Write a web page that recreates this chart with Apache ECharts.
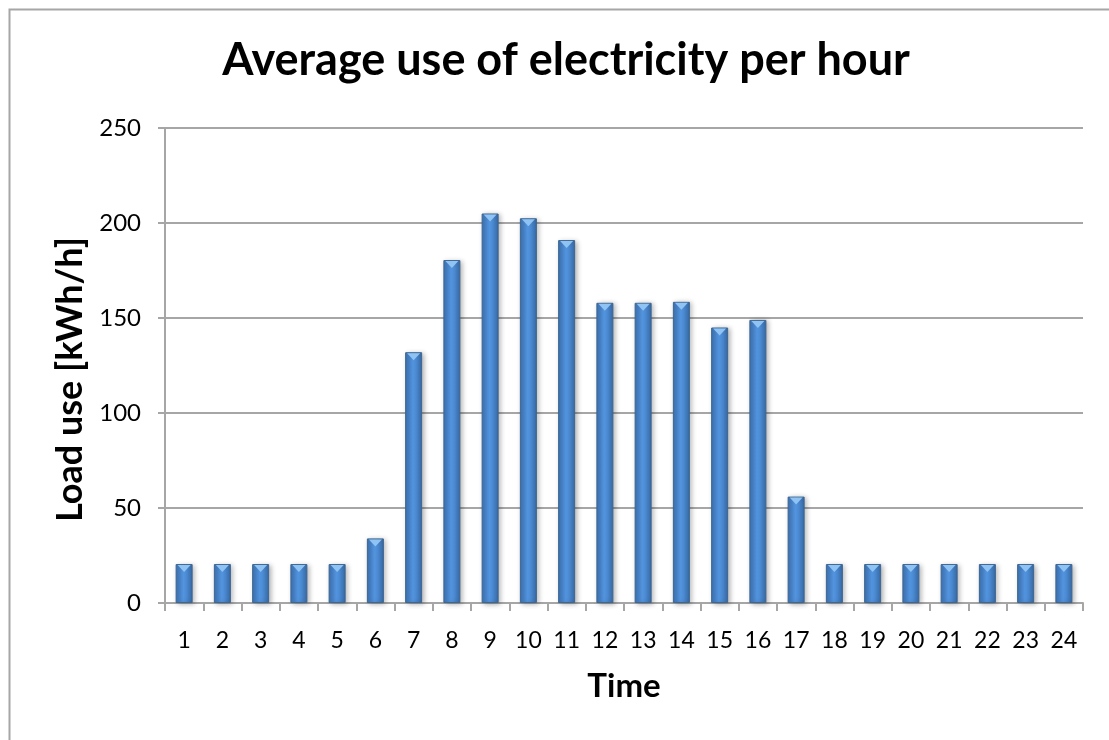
<!DOCTYPE html>
<html>
<head>
<meta charset="utf-8">
<script src="https://cdn.jsdelivr.net/npm/echarts@6/dist/echarts.min.js"></script>
<style>html,body{margin:0;padding:0;background:#fff;}#c{width:1109px;height:740px;}</style>
</head>
<body>
<div id="c"></div>
<script>
var hours = ['1','2','3','4','5','6','7','8','9','10','11','12','13','14','15','16','17','18','19','20','21','22','23','24'];
var loadUse = [20.5,20.5,20.5,20.5,20.5,34,132,180.5,205,202.5,191,158,158,158.5,145,149,56,20.5,20.5,20.5,20.5,20.5,20.5,20.5];
var yTicks = [0,50,100,150,200,250];

var chart = echarts.init(document.getElementById('c'));
var font = 'Lato, "Open Sans", sans-serif';
chart.setOption({
  animation: false,
  backgroundColor: '#fff',
  graphic: [{
    type: 'rect', left: 7, top: 7, z: -1,
    shape: { x: 0, y: 0, width: 1300, height: 900 },
    style: { fill: 'none', stroke: '#a6a6a6', lineWidth: 2 }
  }],
  title: {
    text: 'Average use of electricity per hour',
    left: 561, top: 33, textAlign: 'center',
    textStyle: { fontFamily: font, fontWeight: 'bold', fontSize: 45, color: '#000' }
  },
  grid: { left: 165, right: 26, top: 128, bottom: 137 },
  xAxis: {
    type: 'category', data: hours,
    name: 'Time', nameLocation: 'middle', nameGap: 67,
    nameTextStyle: { fontFamily: font, fontWeight: 'bold', fontSize: 33, color: '#000' },
    axisLine: { lineStyle: { color: '#a6a6a6', width: 2 } },
    axisTick: { show: true, length: 8, lineStyle: { color: '#a6a6a6', width: 2 } },
    axisLabel: { fontFamily: font, fontSize: 23, color: '#000', margin: 26, interval: 0 }
  },
  yAxis: {
    type: 'value', min: 0, max: 250, interval: 50,
    name: 'Load use [kWh/h]', nameLocation: 'middle', nameGap: 68, nameRotate: 90,
    nameTextStyle: { fontFamily: font, fontWeight: 'bold', fontSize: 36, color: '#000', padding: [0, 28, 0, 0] },
    axisLine: { show: true, lineStyle: { color: '#a6a6a6', width: 2 } },
    axisTick: { show: true, length: 7, lineStyle: { color: '#a6a6a6', width: 2 } },
    axisLabel: { fontFamily: font, fontSize: 24, color: '#000', margin: 24,
      formatter: function (v) { return yTicks.indexOf(v) >= 0 ? String(v) : ''; } },
    splitLine: { lineStyle: { color: '#a6a6a6', width: 2 } }
  },
  series: [{
    type: 'bar', data: loadUse, barWidth: 17,
    itemStyle: {
      color: { type: 'linear', x: 0, y: 0, x2: 1, y2: 0, colorStops: [
        { offset: 0, color: '#3d73b4' }, { offset: 0.45, color: '#5395e0' },
        { offset: 0.6, color: '#4d8dd6' }, { offset: 1, color: '#386aa5' }] },
      borderColor: '#3d6691', borderWidth: 1,
      shadowBlur: 5, shadowColor: 'rgba(0,0,0,0.3)', shadowOffsetX: 2, shadowOffsetY: 1
    }
  }, {
    type: 'pictorialBar', data: loadUse, barGap: '-100%',
    symbol: 'triangle', symbolRotate: 180, symbolSize: [13, 7],
    symbolPosition: 'end', symbolOffset: [0, 1], z: 5,
    itemStyle: { color: '#8fc3f3' }
  }]
});
</script>
</body>
</html>
